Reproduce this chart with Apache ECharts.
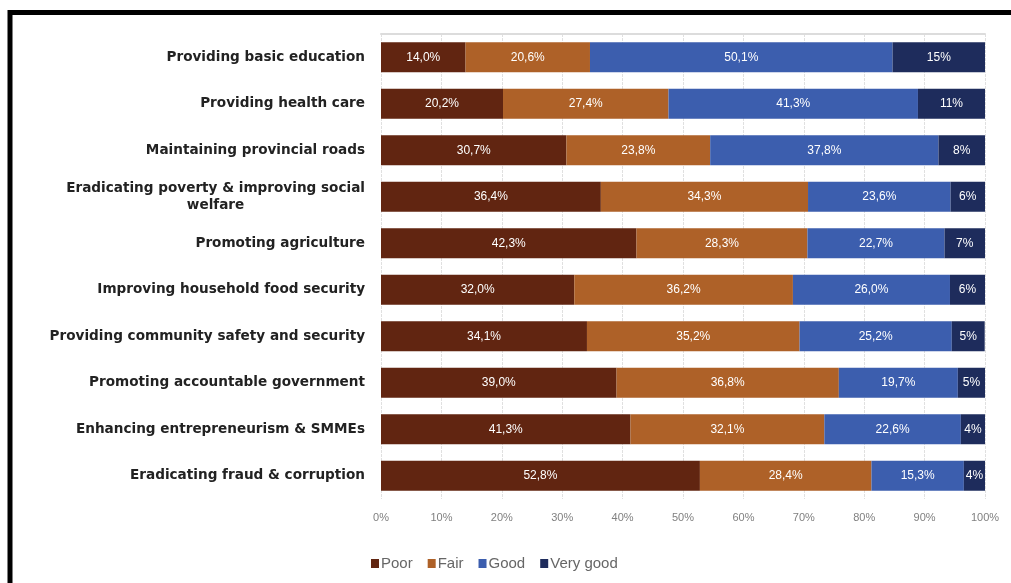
<!DOCTYPE html>
<html>
<head>
<meta charset="utf-8">
<script src="https://cdn.jsdelivr.net/npm/echarts@6/dist/echarts.min.js"></script>
<style>
html,body{margin:0;padding:0;background:#fff;}
#chart{width:1011px;height:583px;}
</style>
</head>
<body>
<div id="chart"></div>
<script>
var categories = [
  "Providing basic education",
  "Providing health care",
  "Maintaining provincial roads",
  "Eradicating poverty & improving social\nwelfare",
  "Promoting agriculture",
  "Improving household food security",
  "Providing community safety and security",
  "Promoting accountable government",
  "Enhancing entrepreneurism & SMMEs",
  "Eradicating fraud & corruption"
];
var poor     = [14.0, 20.2, 30.7, 36.4, 42.3, 32.0, 34.1, 39.0, 41.3, 52.8];
var fair     = [20.6, 27.4, 23.8, 34.3, 28.3, 36.2, 35.2, 36.8, 32.1, 28.4];
var good     = [50.1, 41.3, 37.8, 23.6, 22.7, 26.0, 25.2, 19.7, 22.6, 15.3];
var veryGood = [15.3, 11.1, 7.7, 5.7, 6.7, 5.8, 5.45, 4.5, 4.0, 3.5];
var xTicks = [0, 10, 20, 30, 40, 50, 60, 70, 80, 90, 100];

var seriesNames = ["Poor", "Fair", "Good", "Very good"];
var colors = ["#612511", "#AE6128", "#3C5EAE", "#1E2C5C"];
var seriesData = [poor, fair, good, veryGood];

function fmt(v, isInt) {
  if (isInt) return Math.round(v) + "%";
  return v.toFixed(1).replace(".", ",") + "%";
}

var chart = echarts.init(document.getElementById('chart'));
var series = seriesData.map(function (d, i) {
  return {
    name: seriesNames[i],
    type: 'bar',
    stack: 'total',
    barWidth: 30,
    data: d,
    itemStyle: { color: colors[i] },
    label: {
      show: true,
      position: 'inside',
      color: '#ffffff',
      fontFamily: 'Liberation Sans, Arial, sans-serif',
      fontSize: 12,
      formatter: function (p) { return fmt(p.value, i === 3); }
    }
  };
});

chart.setOption({
  animation: false,
  grid: { left: 381, right: 26, top: 34, bottom: 84 },
  legend: {
    data: seriesNames,
    left: 366,
    top: 551,
    itemWidth: 8,
    itemHeight: 9,
    itemGap: 15,
    icon: 'rect',
    textStyle: { color: '#666', fontSize: 15, fontFamily: 'Liberation Sans, Arial, sans-serif', padding: [0, 0, 0, -3] }
  },
  xAxis: [{
    type: 'value',
    min: 0, max: 100, interval: 10,
    axisLine: { show: false },
    axisTick: { show: false },
    splitLine: { show: true, lineStyle: { color: '#e0e0e0', type: [3, 1] } },
    axisLabel: {
      color: '#808080', fontSize: 11, margin: 13,
      fontFamily: 'Liberation Sans, Arial, sans-serif',
      formatter: function (v) { return xTicks.indexOf(v) >= 0 ? v + '%' : ''; }
    }
  }, {
    type: 'value', position: 'top',
    min: 0, max: 100, interval: 10,
    axisLine: { show: true, lineStyle: { color: '#dcdcdc', width: 2 } },
    axisTick: { show: false },
    axisLabel: { show: false },
    splitLine: { show: false }
  }],
  yAxis: {
    type: 'category',
    inverse: true,
    data: categories,
    axisLine: { show: false },
    axisTick: { show: false },
    axisLabel: {
      margin: 16,
      formatter: function (v) {
        return v.split('\n').map(function (s) { return '{a|' + s + '}'; }).join('\n');
      },
      rich: {
        a: {
          color: '#222', fontSize: 13.6, fontWeight: 'bold', align: 'center',
          fontFamily: 'DejaVu Sans, sans-serif', lineHeight: 17
        }
      }
    }
  },
  graphic: [{
    type: 'rect',
    shape: { x: 10, y: 12.5, width: 1100, height: 700 },
    style: { fill: 'none', stroke: '#000', lineWidth: 5 },
    silent: true
  }],
  series: series
});
</script>
</body>
</html>
